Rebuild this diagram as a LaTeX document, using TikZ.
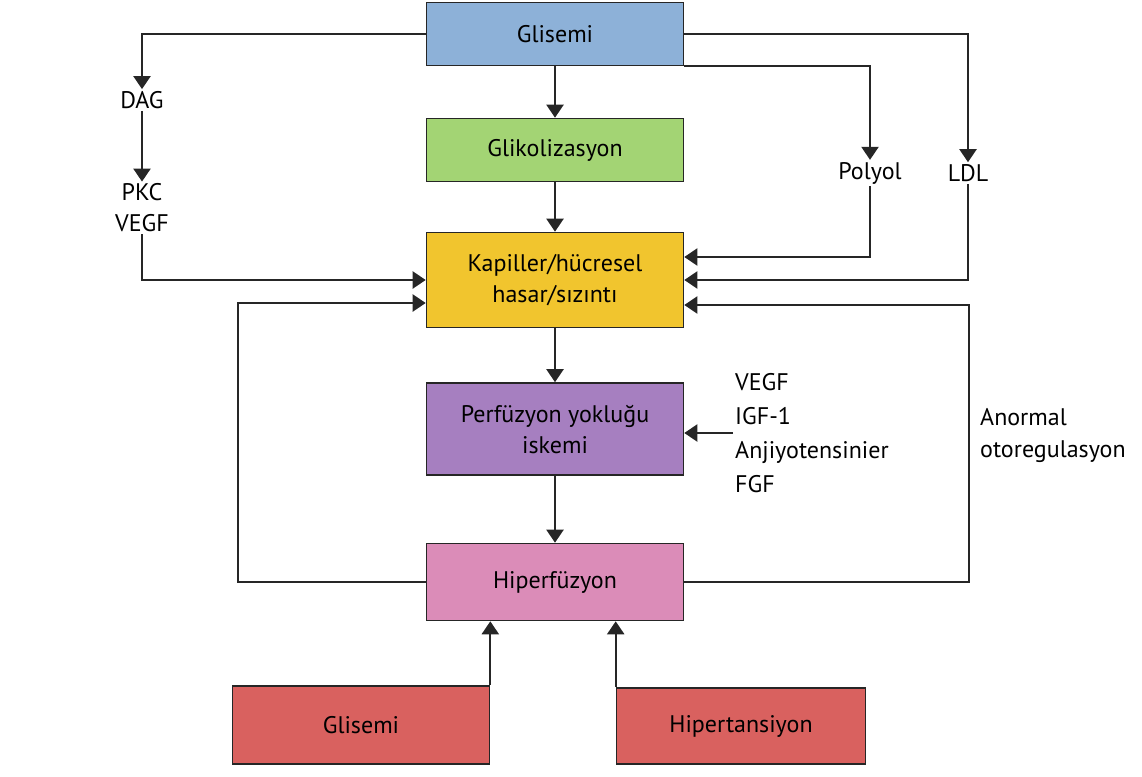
\documentclass[tikz,border=0pt]{standalone}
\usepackage{fontspec}
\setmainfont{PT Sans}
\usetikzlibrary{arrows.meta,positioning,calc}
\definecolor{cblue}{HTML}{8DB1D8}
\definecolor{cgreen}{HTML}{A3D474}
\definecolor{cyellow}{HTML}{F1C52E}
\definecolor{cpurple}{HTML}{A67FC0}
\definecolor{cpink}{HTML}{DB8CB8}
\definecolor{cred}{HTML}{D9615F}

\begin{document}
\begin{tikzpicture}[x=1pt,y=-1pt,
    box/.style={draw=black!85,line width=1.6pt,minimum width=257pt,
                minimum height=63pt,align=center,font=\fontsize{24}{31}\selectfont},
    lbl/.style={inner sep=2pt,align=left,font=\fontsize{24}{31}\selectfont},
    arr/.style={-{Triangle[length=13pt,width=17pt]},line width=2.2pt,black!85}
  ]
    \useasboundingbox (0,0) rectangle (1142,776);

    \node[box,fill=cblue]   (g1)   at (555,34)  {Glisemi};
    \node[box,fill=cgreen]  (glk)  at (555,150) {Glikolizasyon};
    \node[box,fill=cyellow,minimum height=95pt] (kap) at (555,280) {Kapiller/hücresel\\hasar/sızıntı};
    \node[box,fill=cpurple,minimum height=92pt] (perf) at (555,429) {Perfüzyon yokluğu\\iskemi};
    \node[box,fill=cpink,minimum height=77pt]   (hip)  at (555,582) {Hiperfüzyon};
    \node[box,fill=cred,minimum height=78pt]    (g2)   at (361,725) {Glisemi};
    \node[box,fill=cred,minimum width=249pt,minimum height=76pt] (hyp) at (741,726) {Hipertansiyon};

    \node[lbl] (dag)    at (142,100) {DAG};
    \node[lbl,align=center] (pkc) at (142,208) {PKC\\VEGF};
    \node[lbl] (polyol) at (870,173) {Polyol};
    \node[lbl] (ldl)    at (968,173) {LDL};
    \node[lbl,anchor=west,font=\fontsize{24}{34}\selectfont] (fac) at (733,433) {VEGF\\IGF-1\\Anjiyotensinier\\FGF};
    \node[lbl,anchor=west,font=\fontsize{24}{32}\selectfont] (otr) at (978,436) {Anormal\\otoregulasyon};

    % main chain
    \draw[arr] (g1)   -- (glk);
    \draw[arr] (glk)  -- (kap);
    \draw[arr] (kap)  -- (perf);
    \draw[arr] (perf) -- (hip);

    % left branch
    \draw[arr] (g1.west) -| (dag.north);
    \draw[arr] (dag) -- (pkc);
    \draw[arr] (pkc.south) |- (kap.west);
    \draw[arr] (hip.west) -- ++(-188,0) |- ([yshift=-23pt]kap.west);

    % right branch
    \draw[arr] (g1.south east) -| (polyol.north);
    \draw[arr] (g1.east) -| (ldl.north);
    \draw[arr] (polyol.south) |- ([yshift=23pt]kap.east);
    \draw[arr] (ldl.south) |- (kap.east);
    \draw[arr] (hip.east) -- ++(285,0) |- ([yshift=-25pt]kap.east);
    \draw[arr] (fac.west) -- (perf.east |- fac.west);

    % bottom inputs
    \draw[arr] (g2.north east) -- (g2.north east |- hip.south);
    \draw[arr] (hyp.north west) -- (hyp.north west |- hip.south);
  \end{tikzpicture}
\end{document}
